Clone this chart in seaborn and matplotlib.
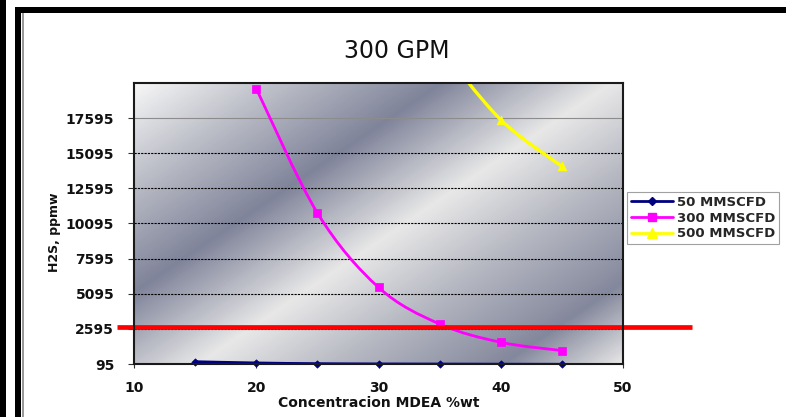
import numpy as np
import pandas as pd
import matplotlib
matplotlib.use("Agg")
import matplotlib.pyplot as plt
import seaborn as sns
from matplotlib.path import Path
from matplotlib.patches import PathPatch, Rectangle
from matplotlib.lines import Line2D
from matplotlib.colors import LinearSegmentedColormap

# ---------------- data ----------------
title = "300 GPM"
x_label = "Concentracion MDEA %wt"
y_label = "H2S, ppmw"
series_names = ["50 MMSCFD", "300 MMSCFD", "500 MMSCFD"]

conc_50 = [15, 20, 25, 30, 35, 40, 45]
h2s_50 = [260, 170, 120, 100, 90, 80, 75]

conc_300 = [20, 25, 30, 35, 40, 45]
h2s_300 = [19700, 10850, 5550, 2940, 1640, 1050]

conc_500 = [35, 40, 45]
h2s_500 = [22700, 17480, 14160]

limit_h2s = 2700

x_ticks = [10, 20, 30, 40, 50]
y_ticks = [95, 2595, 5095, 7595, 10095, 12595, 15095, 17595]
y_max = 20095

colors = ["#000080", "#FF00FF", "#FFFF00"]
markers = ["D", "s", "^"]

# ---------------- figure ----------------
sns.set_style("white")
plt.rcParams["font.family"] = ["DejaVu Sans"]

W, H = 786, 417
fig = plt.figure(figsize=(W / 100, H / 100), dpi=100)
fig.patch.set_facecolor("white")

# frame bars around the picture
fig.add_artist(Rectangle((0, 0), 6 / W, 1, transform=fig.transFigure, color="black", lw=0))
fig.add_artist(Rectangle((15 / W, 0), 6 / W, (H - 7) / H, transform=fig.transFigure, color="black", lw=0))
fig.add_artist(Rectangle((15 / W, 1 - 13 / H), (W - 15) / W, 6 / H, transform=fig.transFigure, color="black", lw=0))
fig.add_artist(Rectangle((22 / W, 0), 1.5 / W, (H - 13) / H, transform=fig.transFigure, color="#9a9a9a", lw=0))

ax_l, ax_r, ax_t, ax_b = 134, 623, 83, 364
ax = fig.add_axes([ax_l / W, 1 - ax_b / H, (ax_r - ax_l) / W, (ax_b - ax_t) / H])
ax.set_facecolor("none")

# metallic diagonal gradient background
pw, ph = ax_r - ax_l, ax_b - ax_t
xx, yy = np.meshgrid(np.arange(pw), np.arange(ph))
u = xx * 0.68 + yy
u = u / u.max()
cmap = LinearSegmentedColormap.from_list(
    "metal",
    [(0.0, "#f7f7f7"), (0.17, "#b9bbc5"), (0.34, "#80849a"), (0.53, "#e8e8e8"),
     (0.69, "#b5b7c1"), (0.87, "#84889c"), (1.0, "#e6e6e6")],
)
ax.imshow(u, cmap=cmap, extent=[0, 1, 0, 1], transform=ax.transAxes,
          aspect="auto", zorder=0, interpolation="bilinear")

ax.set_xlim(10, 50)
ax.set_ylim(95, y_max)


def smooth_path(xs, ys):
    pts = np.column_stack([xs, ys]).astype(float)
    n = len(pts)
    verts = [pts[0]]
    codes = [Path.MOVETO]
    for i in range(n - 1):
        p0 = pts[i - 1] if i > 0 else pts[i]
        p1 = pts[i]
        p2 = pts[i + 1]
        p3 = pts[i + 2] if i + 2 < n else pts[i + 1]
        c1 = p1 + (p2 - p0) / 6.0
        c2 = p2 - (p3 - p1) / 6.0
        verts += [c1, c2, p2]
        codes += [Path.CURVE4] * 3
    return Path(verts, codes)


all_x = [conc_50, conc_300, conc_500]
all_y = [h2s_50, h2s_300, h2s_500]
lws = [2.0, 2.0, 2.4]
for xs, ys, c, lw in zip(all_x, all_y, colors, lws):
    patch = PathPatch(smooth_path(xs, ys), fill=False, edgecolor=c, lw=lw,
                      zorder=3, capstyle="round", joinstyle="round")
    ax.add_patch(patch)

df50 = pd.DataFrame({"conc": conc_50, "h2s": h2s_50})
df300 = pd.DataFrame({"conc": conc_300, "h2s": h2s_300})
df500 = pd.DataFrame({"conc": conc_500, "h2s": h2s_500})
sns.scatterplot(data=df50, x="conc", y="h2s", ax=ax, color=colors[0], marker="D",
                s=14, edgecolor=colors[0], linewidth=0.5, zorder=4, clip_on=False, legend=False)
sns.scatterplot(data=df300, x="conc", y="h2s", ax=ax, color=colors[1], marker="s",
                s=38, edgecolor=colors[1], linewidth=0.5, zorder=4, legend=False)
sns.scatterplot(data=df500, x="conc", y="h2s", ax=ax, color=colors[2], marker="^",
                s=40, edgecolor=colors[2], linewidth=0.5, zorder=4, legend=False)

# red limit line, extending beyond the plot area
ax.axhline(limit_h2s, xmin=-0.035, xmax=1.141, color="#FF0000", lw=3.4,
           clip_on=False, zorder=5, solid_capstyle="butt")

# grid
ax.set_yticks(y_ticks)
ax.set_xticks(x_ticks)
ax.grid(axis="y", color="black", linestyle=(0, (2, 1)), lw=0.8, zorder=1)
ax.grid(axis="x", visible=False)
for tk, gl in zip(y_ticks, ax.get_ygridlines()):
    if tk == 17595:
        gl.set_color("#8c8c8c")
        gl.set_linestyle("-")
ax.set_axisbelow(False)
for gl in ax.get_ygridlines():
    gl.set_zorder(1)

for sp in ax.spines.values():
    sp.set_visible(True)
    sp.set_color("#1a1a1a")
    sp.set_linewidth(1.5)
    sp.set_zorder(6)

ax.tick_params(axis="y", direction="out", length=4.3, width=0.8, color="#333333",
               pad=10, labelsize=10, left=True)
ax.tick_params(axis="x", direction="out", length=3, width=0.8, color="#333333",
               pad=9, labelsize=10, bottom=True)
for lab in ax.get_xticklabels() + ax.get_yticklabels():
    lab.set_fontweight("bold")
    lab.set_color("#111111")

ax.set_xlabel(x_label, fontsize=10, fontweight="bold", color="#111111")
ax.set_ylabel(y_label, fontsize=9, fontweight="bold", color="#111111")
ax.xaxis.set_label_coords(0.5, -0.114)
ax.yaxis.set_label_coords(-0.149, 0.47)

fig.text(397 / W, 1 - 58 / H, title, ha="center", va="baseline", fontsize=17,
         color="#111111")

handles = [Line2D([], [], color=c, marker=m, lw=2, markersize=ms,
                  markeredgecolor=c)
           for c, m, ms in zip(colors, markers, [4, 6, 6.5])]
leg = fig.legend(handles, series_names, loc="upper left",
                 bbox_to_anchor=(627 / W, 1 - 192 / H), frameon=True,
                 fancybox=False, borderaxespad=0, borderpad=0.3,
                 handlelength=3.2, handletextpad=0.3, labelspacing=0.2,
                 prop={"weight": "bold", "size": 9.5})
leg.get_frame().set_edgecolor("#8a8a8a")
leg.get_frame().set_linewidth(0.8)
leg.get_frame().set_facecolor("white")

fig.savefig("out.png", dpi=100)
